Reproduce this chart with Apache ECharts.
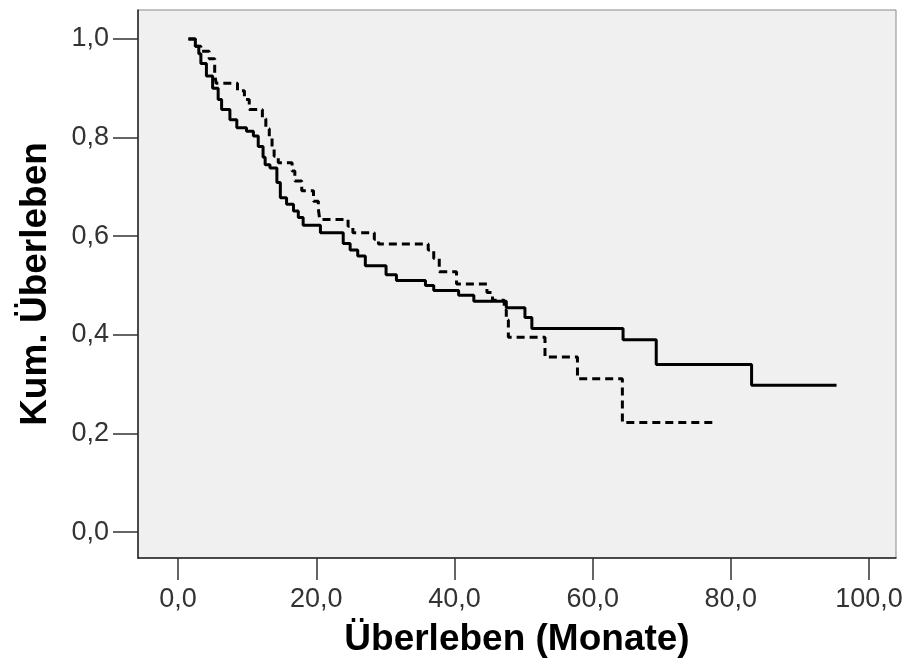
<!DOCTYPE html>
<html>
<head>
<meta charset="utf-8">
<script src="https://cdn.jsdelivr.net/npm/echarts@6/dist/echarts.min.js"></script>
<style>
html,body{margin:0;padding:0;background:#fff;}
#c{width:910px;height:663px;}
</style>
</head>
<body>
<div id="c"></div>
<script>
// Kaplan-Meier step curves (time in months, cumulative survival)
var timesSolid = [1.5, 2.5, 3.0, 3.3, 4.1, 5.0, 5.8, 6.3, 7.5, 8.5, 9.9, 10.9, 11.6, 12.3, 12.6, 13.3, 14.3, 14.8, 15.7, 16.7, 17.4, 18.1, 20.6, 23.9, 24.9, 26.0, 27.1, 30.1, 31.6, 35.8, 37.0, 40.6, 42.8, 47.5, 50.2, 51.2, 64.4, 69.2, 83.0, 95.3];
var survSolid  = [1.0, 0.985, 0.97, 0.95, 0.925, 0.90, 0.877, 0.857, 0.836, 0.82, 0.813, 0.803, 0.782, 0.76, 0.745, 0.738, 0.709, 0.678, 0.665, 0.651, 0.638, 0.622, 0.607, 0.585, 0.572, 0.56, 0.54, 0.522, 0.51, 0.50, 0.49, 0.48, 0.468, 0.455, 0.435, 0.413, 0.39, 0.34, 0.298, 0.298];

var timesDashed = [1.5, 2.5, 3.3, 4.5, 5.3, 5.5, 8.6, 9.6, 10.3, 12.2, 12.7, 13.2, 13.6, 13.9, 14.5, 16.5, 16.9, 17.9, 19.6, 20.3, 20.5, 24.6, 25.3, 28.4, 29.0, 36.2, 37.0, 37.8, 40.3, 44.7, 45.5, 47.2, 47.5, 47.8, 53.1, 57.8, 64.3, 77.7];
var survDashed  = [1.0, 0.985, 0.975, 0.96, 0.93, 0.91, 0.895, 0.877, 0.857, 0.838, 0.818, 0.80, 0.78, 0.762, 0.749, 0.732, 0.712, 0.692, 0.671, 0.655, 0.634, 0.62, 0.607, 0.594, 0.584, 0.572, 0.555, 0.528, 0.503, 0.486, 0.47, 0.45, 0.43, 0.395, 0.355, 0.311, 0.222, 0.222];

var xTicks = [0, 20, 40, 60, 80, 100];
var yTicks = [0, 0.2, 0.4, 0.6, 0.8, 1.0];

function pairs(xs, ys){ return xs.map(function(x,i){ return [x, ys[i]]; }); }
function fmt(v){ return Number(v).toFixed(1).replace('.', ','); }

var chart = echarts.init(document.getElementById('c'));
chart.setOption({
  animation: false,
  backgroundColor: '#ffffff',
  grid: {
    left: 138, top: 10, right: 14, bottom: 103,
    show: true, backgroundColor: '#f0f0f0', borderColor: '#8a8a8a', borderWidth: 1
  },
  xAxis: {
    type: 'value', min: -5.8, max: 103.9,
    name: 'Überleben (Monate)', nameLocation: 'middle', nameGap: 63,
    nameTextStyle: { fontFamily: 'Liberation Sans, Arial, sans-serif', fontWeight: 'bold', fontSize: 37, color: '#000' },
    axisLine: { show: true, onZero: false, lineStyle: { color: '#222', width: 1.5 } },
    axisTick: { show: true, length: 22, customValues: xTicks, lineStyle: { color: '#333', width: 1.5 } },
    axisLabel: { customValues: xTicks, formatter: fmt, margin: 28, fontFamily: 'Liberation Sans, Arial, sans-serif', fontSize: 27, color: '#333' },
    splitLine: { show: false }
  },
  yAxis: {
    type: 'value', min: -0.0525, max: 1.0586,
    name: 'Kum. Überleben', nameLocation: 'middle', nameGap: 84, nameRotate: 90,
    nameTextStyle: { fontFamily: 'Liberation Sans, Arial, sans-serif', fontWeight: 'bold', fontSize: 37, color: '#000' },
    axisLine: { show: true, onZero: false, lineStyle: { color: '#222', width: 1.5 } },
    axisTick: { show: true, length: 25, customValues: yTicks, lineStyle: { color: '#333', width: 1.5 } },
    axisLabel: { customValues: yTicks, formatter: fmt, margin: 29, fontFamily: 'Liberation Sans, Arial, sans-serif', fontSize: 27, color: '#333' },
    splitLine: { show: false }
  },
  series: [
    {
      type: 'line', step: 'end', data: pairs(timesDashed, survDashed),
      symbol: 'none', lineStyle: { color: '#000', width: 3, type: [8, 5] }
    },
    {
      type: 'line', step: 'end', data: pairs(timesSolid, survSolid),
      symbol: 'none', lineStyle: { color: '#000', width: 3 }
    }
  ]
});
</script>
</body>
</html>
